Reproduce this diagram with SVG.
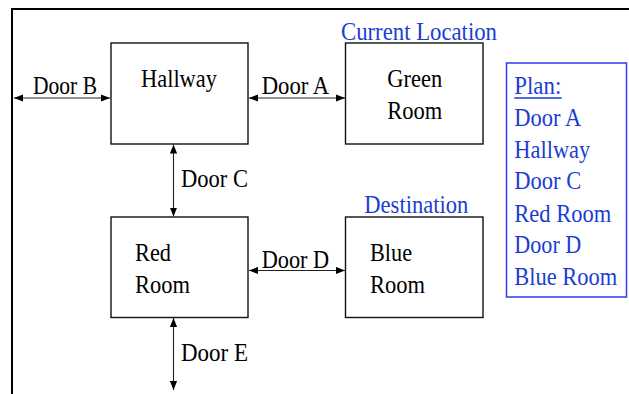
<svg xmlns="http://www.w3.org/2000/svg" width="629" height="394" viewBox="0 0 629 394" font-family="'Liberation Serif', 'Times New Roman', serif">
  <style>
    text { font-family: "Liberation Serif", "Times New Roman", serif; font-size: 25px; }
    .lbl { fill: #000; }
    .blue { fill: #1b3dd2; }
    .room { fill: #fff; stroke: #111; stroke-width: 1.4; }
    .door { stroke: #222; stroke-width: 1.1; fill: none; marker-start: url(#head); marker-end: url(#head); }
  </style>
  <defs>
    <marker id="head" viewBox="0 0 10 8" refX="10" refY="4" markerWidth="9" markerHeight="8" markerUnits="userSpaceOnUse" orient="auto-start-reverse">
      <path d="M0,0 L10,4 L0,8 Z" fill="#000"/>
    </marker>
  </defs>

  <rect width="629" height="394" fill="#fff"/>

  <!-- outer frame (open at right and bottom) -->
  <path d="M12,394 L12,9 L629,9" fill="none" stroke="#000" stroke-width="2"/>

  <!-- doors -->
  <g id="connectors">
    <line class="door" x1="14" y1="98" x2="110" y2="98"/>
    <line class="door" x1="249" y1="98" x2="345" y2="98"/>
    <line class="door" x1="173.5" y1="144.5" x2="173.5" y2="216.5"/>
    <line class="door" x1="249" y1="270.5" x2="345" y2="270.5"/>
    <line class="door" x1="173.5" y1="318" x2="173.5" y2="390"/>
    <text class="lbl" x="33" y="94" textLength="64" lengthAdjust="spacingAndGlyphs">Door B</text>
    <text class="lbl" x="261.7" y="93.7" textLength="67.5" lengthAdjust="spacingAndGlyphs">Door A</text>
    <text class="lbl" x="181" y="186.7" textLength="67" lengthAdjust="spacingAndGlyphs">Door C</text>
    <text class="lbl" x="261.7" y="268.3" textLength="67.5" lengthAdjust="spacingAndGlyphs">Door D</text>
    <text class="lbl" x="181" y="361" textLength="67" lengthAdjust="spacingAndGlyphs">Door E</text>
  </g>

  <g id="hallway">
    <rect class="room" x="111" y="43" width="137" height="101"/>
    <text class="lbl" x="141" y="87.3" textLength="76" lengthAdjust="spacingAndGlyphs">Hallway</text>
  </g>

  <g id="green-room">
    <text class="blue" x="341" y="40" textLength="156" lengthAdjust="spacingAndGlyphs">Current Location</text>
    <rect class="room" x="345.5" y="43" width="137.5" height="101"/>
    <text class="lbl" x="387.3" y="87.3" textLength="55" lengthAdjust="spacingAndGlyphs">Green</text>
    <text class="lbl" x="387.3" y="119" textLength="55" lengthAdjust="spacingAndGlyphs">Room</text>
  </g>

  <g id="red-room">
    <rect class="room" x="111" y="217" width="137" height="100.5"/>
    <text class="lbl" x="135" y="260.7" textLength="36" lengthAdjust="spacingAndGlyphs">Red</text>
    <text class="lbl" x="135" y="292.7" textLength="55" lengthAdjust="spacingAndGlyphs">Room</text>
  </g>

  <g id="blue-room">
    <text class="blue" x="364.3" y="213.3" textLength="104" lengthAdjust="spacingAndGlyphs">Destination</text>
    <rect class="room" x="345.5" y="217" width="137.5" height="100.5"/>
    <text class="lbl" x="370" y="260.7" textLength="42" lengthAdjust="spacingAndGlyphs">Blue</text>
    <text class="lbl" x="370" y="292.7" textLength="55" lengthAdjust="spacingAndGlyphs">Room</text>
  </g>

  <g id="plan">
    <rect x="506.5" y="63" width="120" height="234" fill="#fff" stroke="#2b3cf2" stroke-width="1.5"/>
    <text class="blue" x="514.3" y="94.3" textLength="47" lengthAdjust="spacingAndGlyphs">Plan:</text>
    <line x1="514.3" y1="98" x2="561.7" y2="98" stroke="#1b3dd2" stroke-width="1.6"/>
    <text class="blue" x="514.3" y="126" textLength="67" lengthAdjust="spacingAndGlyphs">Door A</text>
    <text class="blue" x="514.3" y="157.5" textLength="76" lengthAdjust="spacingAndGlyphs">Hallway</text>
    <text class="blue" x="514.3" y="189.3" textLength="67" lengthAdjust="spacingAndGlyphs">Door C</text>
    <text class="blue" x="514.3" y="221.7" textLength="97" lengthAdjust="spacingAndGlyphs">Red Room</text>
    <text class="blue" x="514.3" y="253.3" textLength="67" lengthAdjust="spacingAndGlyphs">Door D</text>
    <text class="blue" x="514.3" y="285.3" textLength="103" lengthAdjust="spacingAndGlyphs">Blue Room</text>
  </g>
</svg>
